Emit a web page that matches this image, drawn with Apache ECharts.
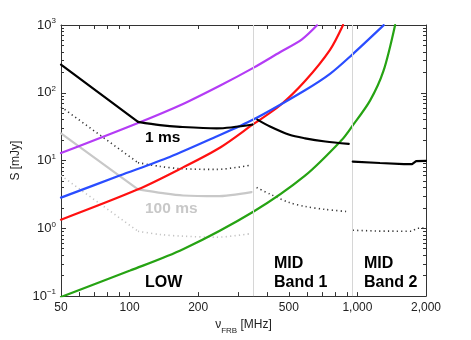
<!DOCTYPE html>
<html>
<head>
<meta charset="utf-8">
<script src="https://cdn.jsdelivr.net/npm/echarts@6/dist/echarts.min.js"></script>
<style>
  html, body { margin: 0; padding: 0; background: #fff; }
  #main { width: 471px; height: 340px; }
</style>
</head>
<body>
<div id="main"></div>
<script>
// frequency [MHz], flux [mJy]
const purpleCurve = [[50, 12.9], [108.9, 35.9], [171.6, 68.5], [250, 128], [349, 233], [457, 397], [571, 615], [665, 990]];
const redCurve = [[50, 1.34], [108.9, 3.76], [171.6, 7.93], [250, 15.6], [349, 34.4], [457, 64.9], [589, 149], [758, 430], [865, 1000]];
const blueCurve = [[50, 2.84], [90.5, 6.0], [150, 11.3], [233, 21.5], [349, 40.2], [589, 109], [758, 190], [944, 360], [1305, 995]];
const greenCurve = [[50, 0.097], [100.5, 0.238], [171.6, 0.491], [349, 1.76], [589, 6.0], [853, 20.1], [944, 31.4], [1136, 76.6], [1300, 208], [1463, 995]];

// 1 ms, LOW
const ms1LowA = [[50, 260], [108.9, 37.2]];
const ms1LowB = [[108.9, 37.2], [136, 33.3], [166.5, 31.4], [241, 29.8], [347, 34.0]];
// 100 ms, LOW
const ms100LowA = [[50, 25.2], [108.9, 3.76]];
const ms100LowB = [[108.9, 3.76], [140, 3.3], [171.6, 3.05], [241, 2.98], [343, 3.43]];
// dotted, LOW
const dotLowA = [[50, 62], [108.9, 9.3]];
const dotLowB = [[108.9, 9.3], [136, 8.2], [166.5, 7.6], [241, 7.4], [343, 8.6]];
const grayDotLowA = [[50, 6.0], [108.9, 0.905]];
const grayDotLowB = [[108.9, 0.905], [136, 0.81], [171.6, 0.766], [241, 0.74], [343, 0.838]];
// MID band 1
const ms1Band1 = [[363.6, 40.2], [413.5, 31.8], [503, 24.0], [589, 21.3], [723, 19.1], [916, 17.6]];
const dotBand1 = [[361, 4.0], [413.5, 3.2], [503, 2.4], [589, 2.1], [723, 1.9], [916, 1.76]];
// MID band 2
const ms1Band2 = [[954, 9.67], [1256, 9.2], [1600, 8.85], [1737, 8.83], [1810, 9.8], [2000, 9.9]];
const dotBand2 = [[954, 0.936], [1256, 0.91], [1737, 0.905], [1820, 1.0], [2000, 1.01]];

const bandEdges = [350, 950];
const xTickValues = [60, 70, 80, 90, 100, 200, 300, 400, 500, 600, 700, 800, 900, 1000];
const xLabelValues = [50, 100, 200, 500, 1000, 2000];
const yMajorValues = [0.1, 1, 10, 100, 1000];

const yMinorValues = [];
[0.1, 1, 10, 100].forEach(d => { for (let k = 2; k <= 9; k++) yMinorValues.push(+(d * k).toPrecision(3)); });

const FONT = '"Liberation Sans", Arial, Helvetica, sans-serif';
const frame = { show: true, lineStyle: { color: '#333', width: 1 } };

function xAxisDef(pos, withLabels) {
  return {
    type: 'log', position: pos, min: 50, max: 2000,
    axisLine: frame,
    axisTick: { show: true, inside: true, length: 4, customValues: xTickValues, lineStyle: { color: '#333' } },
    axisLabel: withLabels ? {
      show: true, customValues: xLabelValues, margin: 6, color: '#222', fontSize: 12, fontFamily: FONT,
      formatter: v => Number(v).toLocaleString('en-US')
    } : { show: false },
    splitLine: { show: false }, minorTick: { show: false },
    name: withLabels ? '{n|ν}{s|FRB}{n| [MHz]}' : '',
    nameLocation: 'middle', nameGap: 14,
    nameTextStyle: {
      rich: {
        n: { fontSize: 12, lineHeight: 20, color: '#222', fontFamily: FONT },
        s: { fontSize: 8, lineHeight: 8, verticalAlign: 'bottom', color: '#222', fontFamily: FONT }
      }
    }
  };
}

function yAxisDef(pos, values, len, withLabels, isMain) {
  return {
    type: 'log', position: pos, min: 0.1, max: 1000,
    axisLine: isMain ? frame : { show: false },
    axisTick: { show: true, inside: true, length: len, customValues: values, lineStyle: { color: '#333' } },
    axisLabel: withLabels ? {
      show: true, margin: 5, customValues: yMajorValues,
      formatter: v => '{b|10}{s|' + String(Math.round(Math.log10(v))).replace('-', '−') + '}',
      rich: {
        b: { fontSize: 13, lineHeight: 16, color: '#222', fontFamily: FONT },
        s: { fontSize: 8, lineHeight: 8, verticalAlign: 'top', color: '#222', fontFamily: FONT }
      }
    } : { show: false },
    splitLine: { show: false }, minorTick: { show: false },
    name: withLabels ? 'S [mJy]' : '',
    nameLocation: 'middle', nameGap: 29, nameRotate: 90,
    nameTextStyle: { fontSize: 12, color: '#222', fontFamily: FONT }
  };
}

function curve(data, color, opts) {
  opts = opts || {};
  return {
    type: 'line', data: data, xAxisIndex: 0, yAxisIndex: 0,
    showSymbol: false, symbol: 'none', silent: true, clip: true,
    smooth: opts.smooth === undefined ? 0.3 : opts.smooth,
    z: opts.z || 3,
    lineStyle: { color: color, width: opts.width || 2.2, type: opts.dash || 'solid', cap: opts.dash ? 'butt' : 'round' }
  };
}

const dots = [1.2, 3.2];

const chart = echarts.init(document.getElementById('main'), null, { renderer: 'canvas' });
chart.setOption({
  animation: false,
  backgroundColor: '#fff',
  grid: { left: 61, top: 25, right: 45, bottom: 39, containLabel: false },
  xAxis: [xAxisDef('bottom', true), xAxisDef('top', false)],
  yAxis: [
    yAxisDef('left', yMajorValues, 5, true, true),
    yAxisDef('left', yMinorValues, 3, false, false),
    yAxisDef('right', yMajorValues, 5, false, true),
    yAxisDef('right', yMinorValues, 3, false, false)
  ],
  series: [
    {
      type: 'line', data: [], xAxisIndex: 0, yAxisIndex: 0, z: 1, silent: true,
      markLine: {
        silent: true, symbol: 'none', label: { show: false },
        lineStyle: { color: '#d6d6d6', width: 1, type: 'solid' },
        data: bandEdges.map(v => ({ xAxis: v }))
      }
    },
    curve(grayDotLowA, '#c4c4c4', { dash: dots, width: 1.6, smooth: false }),
    curve(grayDotLowB, '#c4c4c4', { dash: dots, width: 1.6 }),
    curve(ms100LowA, '#c8c8c8', { smooth: false }),
    curve(ms100LowB, '#c8c8c8'),
    curve(dotLowA, '#333', { dash: dots, width: 1.6, smooth: false }),
    curve(dotLowB, '#333', { dash: dots, width: 1.6 }),
    curve(dotBand1, '#333', { dash: dots, width: 1.6 }),
    curve(dotBand2, '#333', { dash: dots, width: 1.6, smooth: false }),
    curve(greenCurve, '#26a313', { z: 4 }),
    curve(purpleCurve, '#b43cf5', { z: 4 }),
    curve(redCurve, '#ff1010', { z: 4 }),
    curve(blueCurve, '#2a4dff', { z: 4 }),
    curve(ms1LowA, '#000', { smooth: false, z: 5 }),
    curve(ms1LowB, '#000', { z: 5 }),
    curve(ms1Band1, '#000', { z: 5 }),
    curve(ms1Band2, '#000', { smooth: false, z: 5 })
  ],
  graphic: [
    { type: 'text', x: 145, y: 138, z: 10, style: { text: '1 ms', font: 'bold 15.5px ' + FONT, fill: '#000', verticalAlign: 'middle' } },
    { type: 'text', x: 145, y: 209, z: 10, style: { text: '100 ms', font: 'bold 15.5px ' + FONT, fill: '#c8c8c8', verticalAlign: 'middle' } },
    { type: 'text', x: 145, y: 283, z: 10, style: { text: 'LOW', font: 'bold 16px ' + FONT, fill: '#000', verticalAlign: 'middle' } },
    { type: 'text', x: 274, y: 254, z: 10, style: { text: 'MID\nBand 1', font: 'bold 16px ' + FONT, lineHeight: 19, fill: '#000', verticalAlign: 'top' } },
    { type: 'text', x: 364, y: 254, z: 10, style: { text: 'MID\nBand 2', font: 'bold 16px ' + FONT, lineHeight: 19, fill: '#000', verticalAlign: 'top' } }
  ]
});
</script>
</body>
</html>
